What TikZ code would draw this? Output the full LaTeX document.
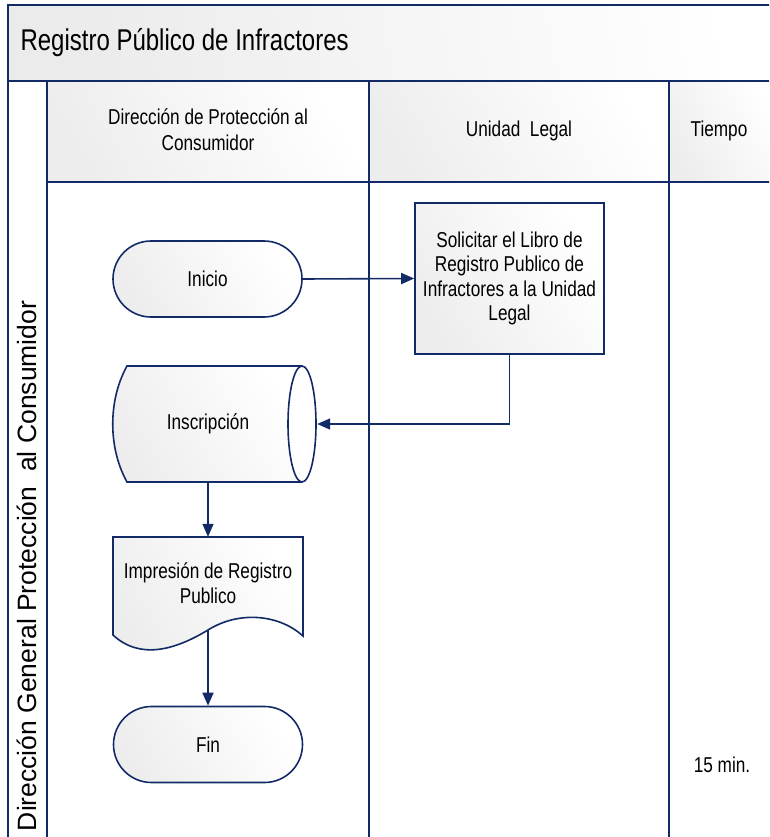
\documentclass[tikz,border=0pt]{standalone}
\usepackage{fontspec}
\setmainfont{Liberation Sans}
\newfontfamily\nf[FakeStretch=0.8]{Liberation Sans}
\usetikzlibrary{shapes.misc,arrows.meta}
\definecolor{navy}{RGB}{18,42,102}
\tikzset{
  frame/.style={draw=navy,line width=2pt},
  shp/.style={draw=navy,line width=1.6pt},
  grad/.style={left color=black!7,right color=white,shading angle=120},
  term/.style={shp,grad,rounded rectangle,minimum width=189,minimum height=76,inner sep=0pt,font=\nf\fontsize{21.5}{24}\selectfont},
  proc/.style={shp,grad,rectangle,minimum width=189,minimum height=151,inner sep=0pt,align=center,font=\nf\fontsize{21.5}{24.3}\selectfont},
  plain/.style={rectangle,inner sep=0pt,align=center,font=\nf\fontsize{21.5}{25}\selectfont},
  arr/.style={draw=navy,line width=1.6pt,-{Triangle[length=13pt,width=11pt]}},
  hdr/.style={align=center,font=\nf\fontsize{21.5}{26}\selectfont}
}
\begin{document}
\begin{tikzpicture}[x=1pt,y=-1pt]
\useasboundingbox (0,0) rectangle (769,837);
\clip (0,0) rectangle (769,837);
% title band and header cells
\shade[left color=black!8,right color=white,shading angle=100] (8,5) rectangle (780,81);
\shade[grad] (47,81) rectangle (369,182);
\shade[grad] (369,81) rectangle (669,182);
\shade[grad] (669,81) rectangle (780,182);
\draw[frame] (780,5) -- (8,5) -- (8,845);
\draw[frame] (8,81) -- (780,81);
\draw[frame] (47,81) -- (47,845);
\draw[frame] (369,81) -- (369,845);
\draw[frame] (669,81) -- (669,845);
\draw[frame] (47,182) -- (780,182);
% texts
\node[anchor=west,font=\nf\fontsize{30}{34}\selectfont] (title) at (17,43) {Registro Público de Infractores};
\node[hdr] (h1) at (208,130) {Dirección de Protección al\\Consumidor};
\node[hdr] (h2) at (519,131) {Unidad\ \ Legal};
\node[hdr] (h3) at (719,131) {Tiempo};
\node[rotate=90,font=\fontsize{26.5}{30}\selectfont] (lane) at (27,566) {Dirección General Protección\ \ al Consumidor};
\node[font=\nf\fontsize{21.5}{24}\selectfont] (time) at (722,765) {15 min.};
% shapes
\node[term] (inicio) at (207.5,279) {Inicio};
\node[proc] (sol) at (509.5,278.5) {Solicitar el Libro de\\Registro Publico de\\Infractores a la Unidad\\Legal};
% Inscripcion shape
\shade[grad] (127,366) -- (302,366) -- (302,482) -- (127,482) .. controls (108,448) and (108,400) .. (127,366) -- cycle;
\draw[shp] (302,366) -- (127,366) .. controls (108,400) and (108,448) .. (127,482) -- (302,482);
\draw[shp,fill=white] (302,424) ellipse [x radius=14, y radius=58];
\node[plain,minimum width=218,minimum height=116] (insc) at (208,424) {Inscripción};
% document shape
\shade[grad] (113,537) -- (303,537) -- (303,636) .. controls (280,615) and (240,610) .. (208,630) .. controls (175,650) and (140,660) .. (113,635) -- cycle;
\draw[shp] (113,537) -- (303,537) -- (303,636) .. controls (280,615) and (240,610) .. (208,630) .. controls (175,650) and (140,660) .. (113,635) -- cycle;
\node[plain,minimum width=190,minimum height=93] (imp) at (208,583.5) {Impresión de Registro\\Publico};
\node[term] (fin) at (208,744.5) {Fin};
% connectors
\draw[arr] (inicio.east) -- (sol.west);
\draw[arr] (sol.south) |- (insc.east);
\draw[arr] (insc.south) -- (imp.north);
\draw[arr] (imp.south) -- (fin.north);
\end{tikzpicture}
\end{document}
